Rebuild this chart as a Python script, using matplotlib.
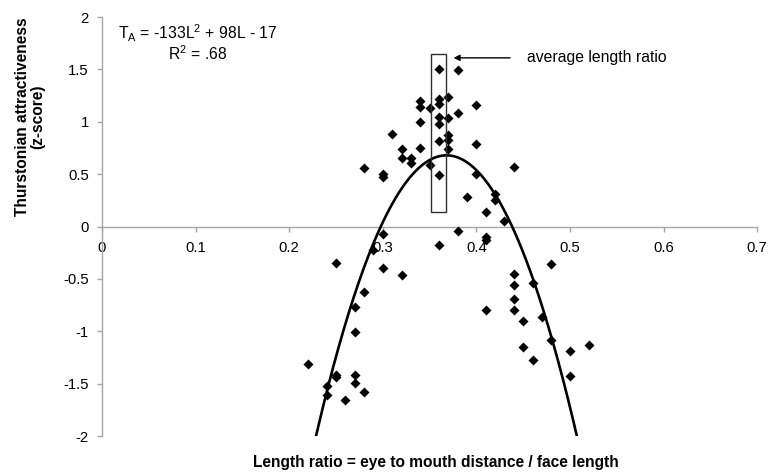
import numpy as np
import matplotlib
matplotlib.use("Agg")
import matplotlib.pyplot as plt
from matplotlib.patches import Rectangle

plt.rcParams['font.family'] = ['Liberation Sans', 'DejaVu Sans']
plt.rcParams['mathtext.fontset'] = 'custom'
plt.rcParams['mathtext.rm'] = 'Liberation Sans'
plt.rcParams['mathtext.it'] = 'Liberation Sans'

# Length ratio (x) and Thurstonian attractiveness z-score (y)
length_ratio = [
    0.36, 0.38, 0.34, 0.34, 0.35, 0.36, 0.36, 0.37, 0.40, 0.38,
    0.36, 0.37, 0.36, 0.34, 0.31, 0.37, 0.37, 0.36, 0.40, 0.32,
    0.34, 0.37, 0.32, 0.33, 0.33, 0.35, 0.28, 0.44, 0.30, 0.30,
    0.36, 0.40, 0.39, 0.42, 0.42, 0.41, 0.43, 0.30, 0.38, 0.41,
    0.41, 0.36, 0.29, 0.25, 0.30, 0.32, 0.28, 0.27, 0.27, 0.22,
    0.25, 0.25, 0.27, 0.27, 0.24, 0.24, 0.28, 0.26, 0.48, 0.44,
    0.46, 0.44, 0.44, 0.41, 0.44, 0.45, 0.47, 0.48, 0.45, 0.46,
    0.50, 0.50, 0.52,
]
attractiveness = [
    1.50, 1.49, 1.20, 1.14, 1.13, 1.22, 1.17, 1.24, 1.16, 1.08,
    1.05, 1.04, 0.98, 1.00, 0.88, 0.87, 0.83, 0.82, 0.79, 0.74,
    0.75, 0.74, 0.65, 0.65, 0.61, 0.59, 0.56, 0.57, 0.50, 0.47,
    0.49, 0.50, 0.28, 0.31, 0.25, 0.14, 0.05, -0.07, -0.04, -0.10,
    -0.13, -0.18, -0.22, -0.35, -0.40, -0.46, -0.63, -0.77, -1.01, -1.31,
    -1.42, -1.44, -1.42, -1.49, -1.52, -1.61, -1.58, -1.66, -0.36, -0.45,
    -0.54, -0.56, -0.69, -0.80, -0.80, -0.90, -0.86, -1.08, -1.15, -1.27,
    -1.19, -1.43, -1.13,
]

# quadratic trendline as drawn (a, b, c)
fit_coef = [-138.0, 101.57, -18.01]

# average length ratio box
avg_box_x = [0.352, 0.368]
avg_box_y = [0.14, 1.65]

x_ticks = [0, 0.1, 0.2, 0.3, 0.4, 0.5, 0.6, 0.7]
y_ticks = [-2, -1.5, -1, -0.5, 0, 0.5, 1, 1.5, 2]

W, H = 773, 475
fig = plt.figure(figsize=(W / 100, H / 100), dpi=100)
ax = fig.add_axes([102 / W, (H - 436) / H, (757.2 - 102) / W, (436 - 17) / H])

ax.set_xlim(0, 0.7)
ax.set_ylim(-2, 2)

gray = '#a6a6a6'
for s in ['top', 'right']:
    ax.spines[s].set_visible(False)
ax.spines['left'].set_position(('data', 0))
ax.spines['bottom'].set_position(('data', 0))
for s in ['left', 'bottom']:
    ax.spines[s].set_color(gray)
    ax.spines[s].set_linewidth(1.0)

ax.set_xticks(x_ticks)
ax.set_xticklabels(['0' if t == 0 else f'{t:g}' for t in x_ticks])
ax.set_yticks(y_ticks)
ax.set_yticklabels([f'{t:g}' for t in y_ticks])
ax.tick_params(axis='both', direction='out', length=3.5, width=1.0, color=gray,
               labelsize=10.7, labelcolor='black', pad=6)
ax.tick_params(axis='x', pad=7)

# trendline
xs = np.linspace(0.2, 0.55, 400)
ys = np.polyval(fit_coef, xs)
ax.plot(xs, ys, color='black', lw=1.9, zorder=3, clip_on=True)

# scatter
ax.scatter(length_ratio, attractiveness, marker='D', s=26, color='black',
           linewidths=0, zorder=4)

# box
ax.add_patch(Rectangle((avg_box_x[0], avg_box_y[0]), avg_box_x[1] - avg_box_x[0],
                       avg_box_y[1] - avg_box_y[0], fill=False, edgecolor='#303030',
                       lw=1.0, zorder=5))

# arrow + label
ax.annotate('', xy=(0.3755, 1.61), xytext=(0.436, 1.61),
            arrowprops=dict(arrowstyle='-|>', color='black', lw=1.0,
                            mutation_scale=9, shrinkA=0, shrinkB=0))
ax.text(0.454, 1.61, 'average length ratio', fontsize=11.3, va='center', ha='left')

# equation (two centred lines in one text)
fig.text(198 / W, 1 - 43 / H,
         'T$_\\mathrm{A}$ = -133L$^2$ + 98L - 17\nR$^2$ = .68',
         fontsize=11.3, ha='center', va='center', multialignment='center',
         linespacing=1.05)

# axis labels
fig.text(30 / W, 1 - 117 / H, 'Thurstonian attractiveness\n(z-score)', rotation=90,
         fontsize=11.2, fontweight='bold', ha='center', va='center', linespacing=1.05)
fig.text(436 / W, 1 - 463 / H, 'Length ratio = eye to mouth distance / face length',
         fontsize=11.2, fontweight='bold', ha='center', va='center')

fig.savefig('out.png', dpi=100)
